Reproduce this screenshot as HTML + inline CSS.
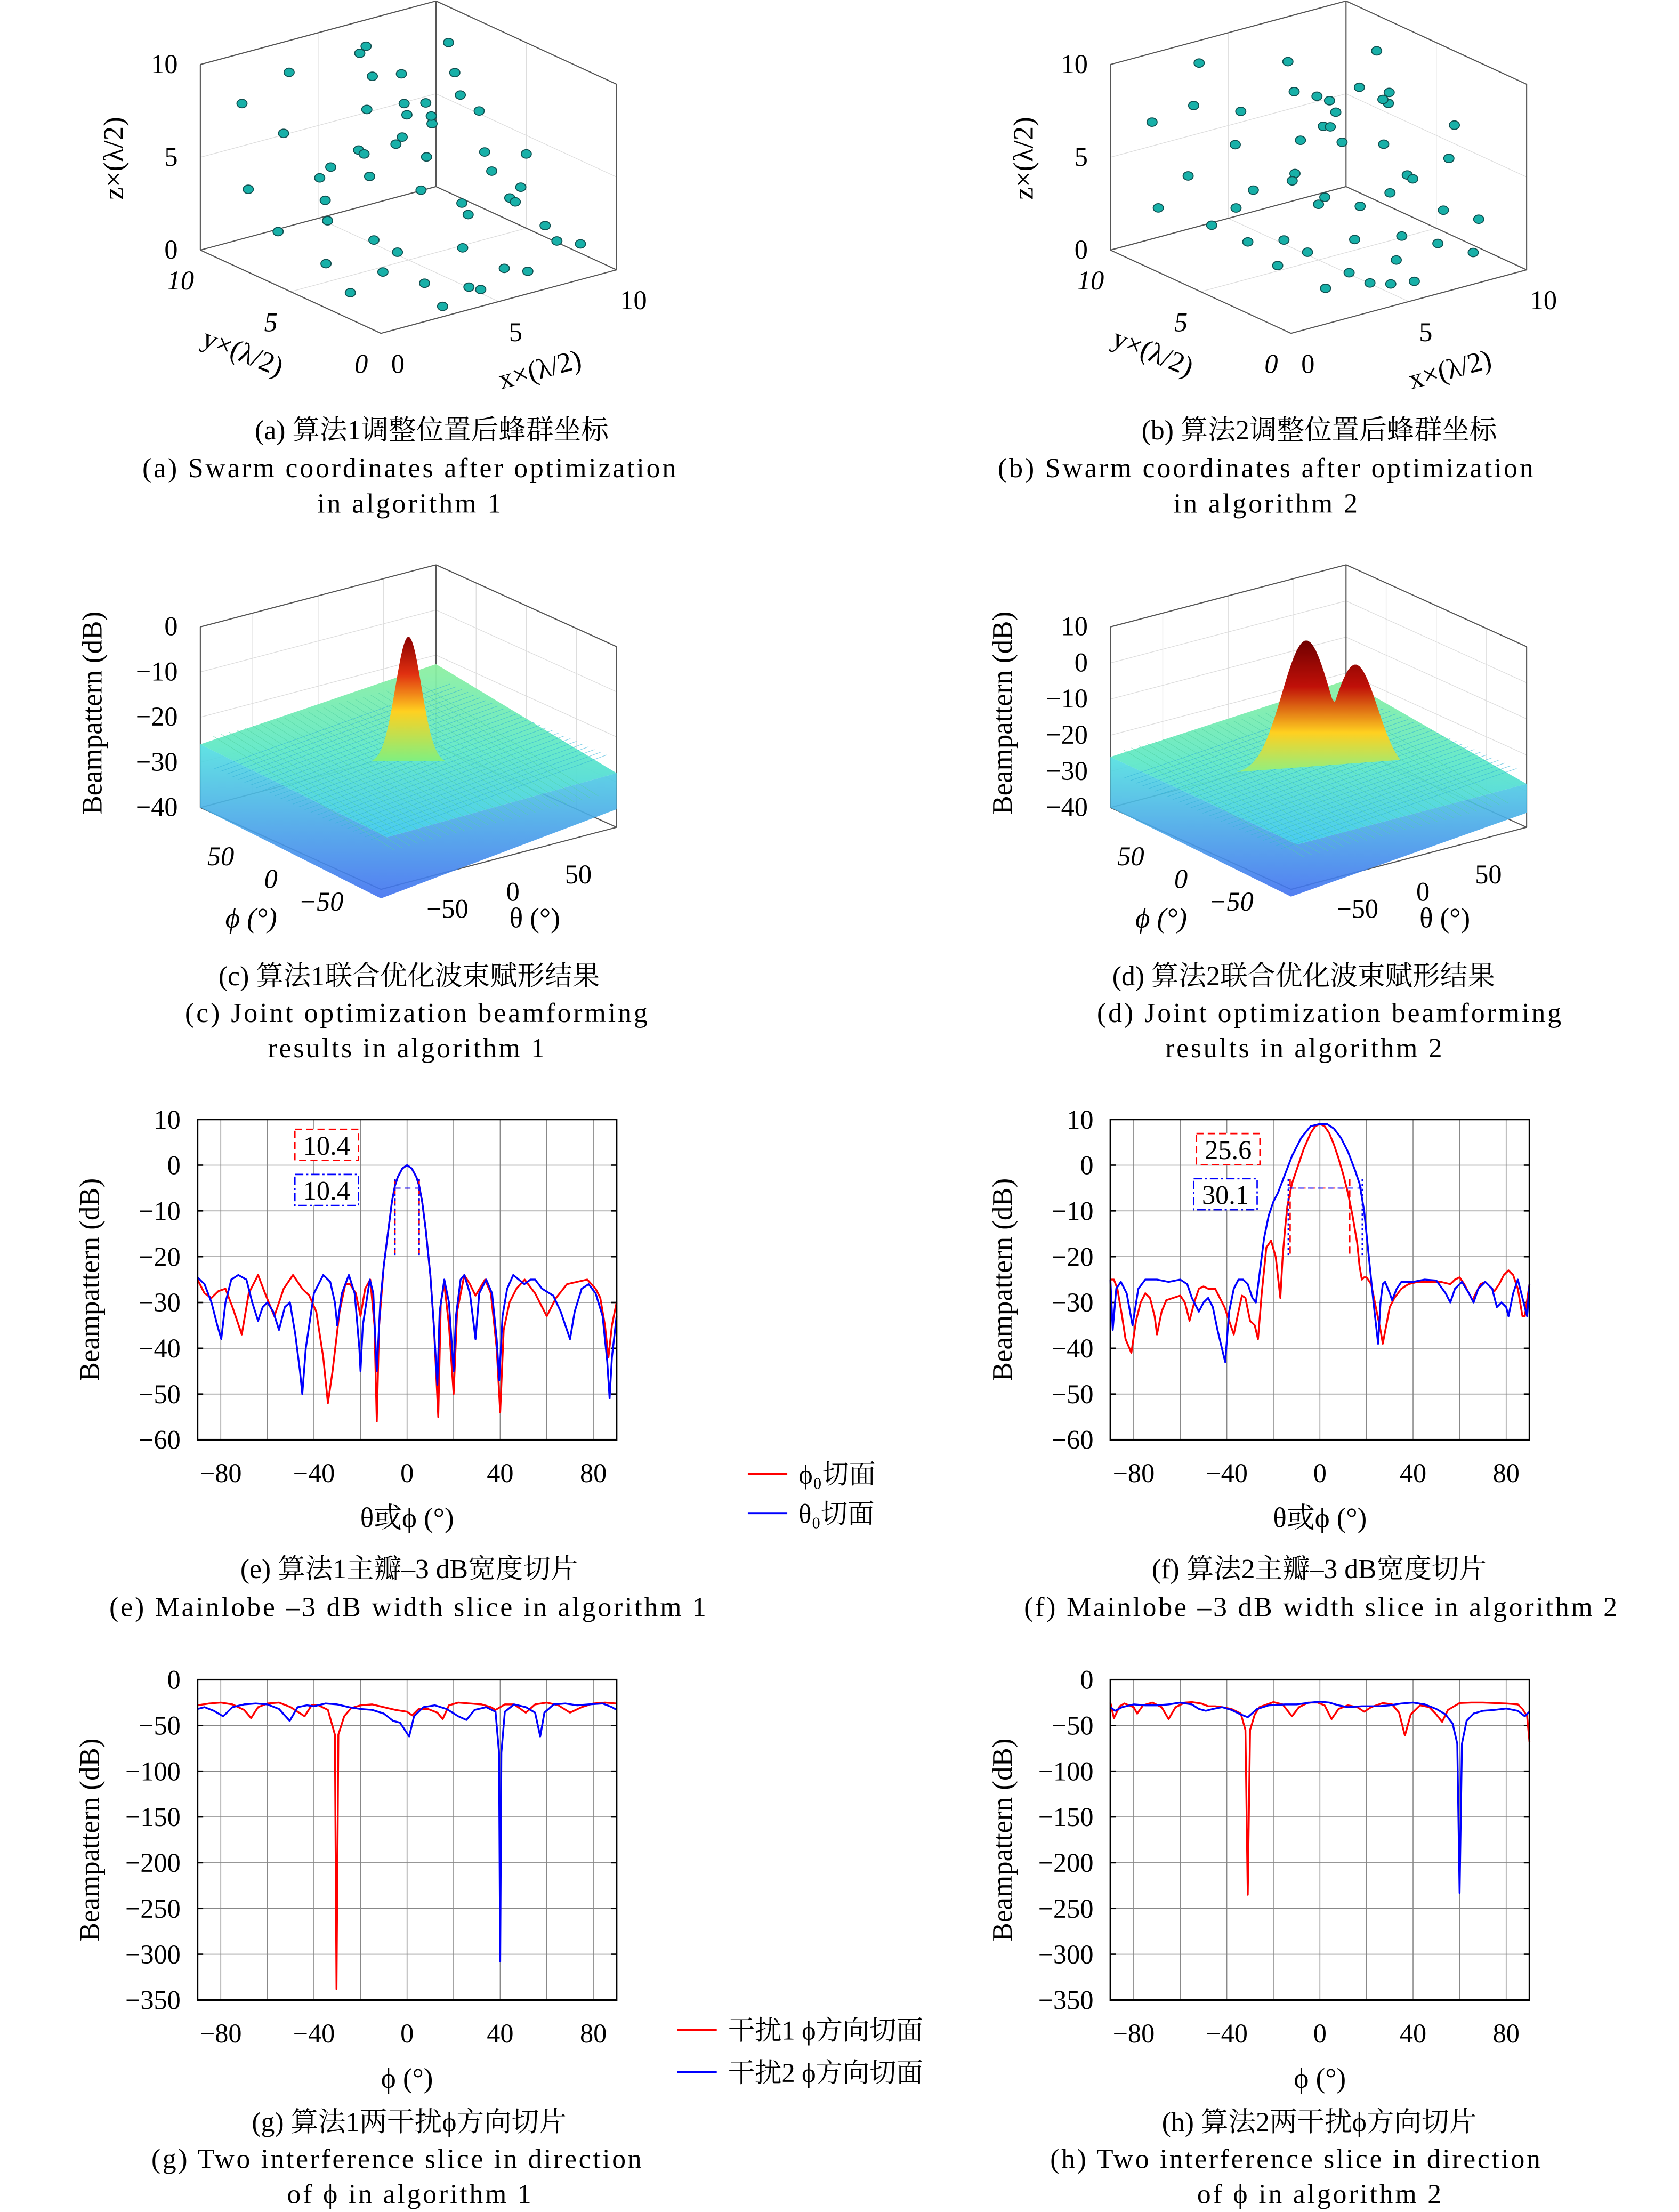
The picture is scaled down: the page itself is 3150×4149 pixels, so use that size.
<!DOCTYPE html>
<html><head><meta charset="utf-8">
<style>
html,body{margin:0;padding:0;background:#fff;}
svg{display:block;}
text{font-family:"Liberation Serif","Noto Serif CJK SC",serif;fill:#000;}
</style></head>
<body>
<svg id="root" width="3150" height="4149" viewBox="0 0 1190 1567" xmlns="http://www.w3.org/2000/svg">
<defs>
<linearGradient id="peakA" x1="0" y1="0" x2="0" y2="1">
<stop offset="0" stop-color="#8b0000"/><stop offset="0.3" stop-color="#e03010"/><stop offset="0.6" stop-color="#ffd020"/><stop offset="1" stop-color="#80f080"/>
</linearGradient>
<linearGradient id="peakB" x1="0" y1="0" x2="0" y2="1">
<stop offset="0" stop-color="#700000"/><stop offset="0.35" stop-color="#c01008"/><stop offset="0.7" stop-color="#ffd020"/><stop offset="1" stop-color="#90f080"/>
</linearGradient>
<linearGradient id="surfTop" x1="0" y1="0" x2="0" y2="1">
<stop offset="0" stop-color="#8ef0a0"/><stop offset="0.5" stop-color="#60e8c8"/><stop offset="1" stop-color="#40c8f0"/>
</linearGradient>
<linearGradient id="skirt" x1="0" y1="0" x2="0" y2="1">
<stop offset="0" stop-color="#50e0e0"/><stop offset="1" stop-color="#4070f0"/>
</linearGradient>
</defs>
<g id="layer"></g>
</svg>
<script>
// ---------- data ----------
const scatterA = [[1,9,8],[2,8,6.5],[3,9,9],[0.5,8,4],[1,7,2],[2,6,5],[3,7,3],[4,8,4],[1.5,5,1],[0.8,4,4],[2.5,4.5,7],[4,6,8],[5,7,9],[5.5,8,10],[6,9,9],[3,3,2],[4,3,5],[5,4,6],[6,5,7],[6.5,6,7.5],[7,8,8],[7.5,8.5,6],[8,9,5],[5,2,2],[6,3,3],[7,3,5],[8,5,7],[9,6,4],[9.5,8,6],[6,1,1],[7,2,4],[8,3,3],[9,4,3],[10,5,4],[8.5,2,2],[4.5,1,0.5],[3,1.5,1],[2,2.5,1.5],[3.5,5.5,6],[4.5,6.5,4],[5.5,6,6],[7.5,7,6],[8.5,7,8],[9,8,9],[6.5,4,3],[2,3,3],[1,3,0.5],[5,1,0.2],[7,1,0.5],[9,2,1],[10,2,0.5],[3,0.5,0.2],[6,7,5]];
const scatterB = [[1,9,7],[2,8,8],[3,9,9.5],[0.5,8,3],[1,7,5],[2,7,2],[3,6,4],[4,8,7],[1.5,5,4],[2.5,4,1],[3,3,2],[4,5,5],[5,6,6],[5.5,7,8],[6,8,9],[4,2,1],[5,3,2],[6,4,3],[6,5,6],[6.5,6,7],[7,7,7],[7.5,8,5],[8,9,6],[5,1,0.5],[6,2,1],[7,3,1.5],[8,4,4],[9,5,3],[9.5,7,6],[6,1,0.3],[7,1,2],[8,2,3],[9,3,5],[10,4,6],[8.5,1,1],[4.5,1.5,0.5],[3,2,0.5],[2,3,3],[3.5,4.5,5],[4.5,4,4],[5.5,5,7],[7.5,6,8],[8.5,6,7],[9,7,9],[6.5,3,4],[2,5,2],[7,4,6],[5,5,3],[3,7,6],[8,5,8],[9.5,2,2]];
const eRed = [[-90,-25],[-87,-28],[-84,-29],[-81,-27.5],[-78,-27],[-75,-31],[-71,-37],[-68,-28],[-64,-24],[-61,-28],[-57,-33],[-53,-27],[-49,-24],[-45,-27],[-42,-28.5],[-39,-32],[-36,-42],[-34,-52],[-32,-45],[-29,-32],[-26.5,-26],[-24.5,-26],[-22,-28],[-20,-33],[-18,-27],[-15.8,-25],[-14,-35],[-13,-56],[-12,-35],[-10,-22],[-8,-14],[-6.5,-8],[-5.2,-4.5],[-4,-2.6],[-2,-0.7],[0,0],[2,-0.7],[4,-2.6],[5.2,-4.5],[6.5,-8],[8,-14],[10,-24],[11.5,-35],[13.4,-55],[14.5,-30],[16,-26],[18,-35],[20,-50],[21.5,-32],[24.6,-24],[27,-26],[29.4,-28.5],[33.5,-25],[36,-28],[38.5,-40],[40,-54],[41.5,-36],[44,-30],[47,-27],[50.5,-25],[55,-28],[60,-33],[64,-29],[68.7,-26],[73,-25.5],[77.4,-25],[81,-27],[83,-29],[85,-35],[86.5,-42],[88,-35],[90,-30]];
const eBlue = [[-90,-24.5],[-87,-26],[-84,-30],[-81.5,-35],[-79.8,-38],[-78,-30],[-75.5,-25],[-72.5,-24],[-69,-25],[-66.5,-30],[-64,-34],[-62,-31],[-60,-30],[-57.5,-32],[-55,-36],[-52.5,-31],[-50.3,-30],[-48,-37],[-46,-45],[-45,-50],[-43.5,-40],[-40,-28],[-36,-24],[-33,-25.5],[-31,-30],[-30,-35],[-28,-28],[-25,-24],[-22.5,-28],[-20.5,-40],[-20,-45],[-19,-35],[-16,-25],[-14.5,-28],[-13,-45],[-11.5,-30],[-10,-22],[-8,-14],[-6.5,-8],[-5.2,-4.5],[-4,-2.6],[-2,-0.7],[0,0],[2,-0.7],[4,-2.6],[5.2,-4.5],[6.5,-8],[8,-14],[10,-24],[11.5,-35],[13,-48],[14,-32],[16,-25],[18,-30],[20,-45],[21,-33],[23,-25],[24.6,-24],[27,-28],[29.4,-38],[31,-28],[34,-25],[36.5,-28],[38.5,-38],[39.6,-47],[41,-33],[43,-27],[45.6,-24],[48,-25],[50.4,-26],[53,-25],[55,-25],[58,-27],[62.8,-28.5],[66,-32],[70,-38],[72,-32],[75,-27],[78,-26],[81,-28],[84,-33],[86,-43],[87,-51],[88,-42],[90,-33]];
const fRed = [[-90,-25],[-88.5,-25],[-87,-27],[-85,-33],[-83.5,-38],[-81,-41],[-79,-34],[-77,-30],[-75,-28],[-73,-29],[-71,-33],[-70,-37],[-68,-32],[-66,-29.5],[-63,-29],[-60,-28.5],[-58,-30],[-56,-34],[-54,-30],[-52,-27],[-50,-26.5],[-48,-27],[-45,-27],[-43,-29],[-41,-31],[-39,-34],[-37,-37],[-35,-32],[-33.5,-28.5],[-32,-29],[-30,-34],[-28,-35],[-26.6,-38],[-25,-28],[-23,-18],[-21,-16.5],[-19,-20],[-17,-29],[-16,-20],[-15,-14],[-14,-9],[-12,-4],[-10,-1],[-7,3.5],[-4,7],[-2,8.5],[0,9],[2,8.5],[4,7],[6,4.5],[8,1.5],[10,-2],[12,-6],[14,-11],[16,-17],[17,-22],[18,-25],[19,-24.5],[20,-24.5],[22,-26],[24,-31],[26,-36],[27,-39],[28.5,-35],[30,-31],[32,-29],[35,-27],[38,-26],[42,-25.5],[48,-25.5],[52,-25.5],[56,-26],[58,-25],[60,-24.5],[62,-26],[64,-28],[65.5,-29.5],[67,-28],[69,-26],[71,-25.5],[73,-26.5],[75,-27.5],[77,-26],[79,-24],[81,-23],[83,-24],[85,-27],[87,-33],[88,-33],[90,-26]];
const fBlue = [[-90,-25],[-89,-36],[-87.5,-27],[-85.5,-25.5],[-83,-28],[-80.5,-35],[-78,-27],[-75,-25],[-70,-25],[-65,-25.5],[-60,-25],[-57,-26],[-55,-29],[-52,-32],[-50,-30],[-48,-29],[-46,-31],[-44,-36],[-40.7,-43],[-39,-32],[-37,-27],[-35,-25],[-33,-25],[-31,-26],[-29,-29],[-27.5,-30],[-26,-24],[-24,-16],[-22,-11],[-20,-8],[-18,-6],[-15,-2],[-12,2],[-8,6],[-4,8.5],[0,9],[3,9],[6,8],[9,6],[12,3],[15,-1],[17,-4],[19,-10],[21,-20],[23,-30],[25,-39],[26,-30],[27,-26],[28,-25.5],[30,-28],[31,-29.5],[33,-27],[35,-25.5],[40,-25.5],[45,-25],[50,-25.2],[54,-28],[56,-30],[58,-27],[61,-25.5],[64,-28],[66,-30],[68,-27],[71,-25.5],[74,-27],[76,-31],[78,-30],[80,-31],[81,-33],[83,-28],[85,-25],[87,-29],[89,-33],[90,-26]];
const gRed = [[-90,-28],[-85,-26],[-80,-25],[-75,-27],[-70,-33],[-67,-42],[-64,-30],[-60,-26],[-55,-25],[-50,-30],[-44,-40],[-41,-28],[-38,-28],[-34,-33],[-31,-60],[-30.3,-338],[-29.5,-60],[-27,-40],[-24,-31],[-20,-28],[-15,-27],[-10,-30],[-5,-33],[0,-35],[2.2,-39],[5,-32],[9,-32],[13,-36],[15.3,-43],[18,-28],[22,-25],[27,-26],[32,-27],[36,-30],[38,-33],[42,-27],[46,-27],[51,-36],[55,-27],[60,-25],[65,-28],[70,-36],[75,-30],[80,-26],[85,-25],[90,-26]];
const gBlue = [[-90,-32],[-87,-30],[-83,-34],[-79,-40],[-75,-30],[-70,-27],[-65,-26],[-60,-27],[-55,-32],[-50.4,-45],[-47,-30],[-43,-28],[-40,-29],[-35,-26],[-30,-27],[-25,-30],[-20,-32],[-15,-33],[-10,-37],[-6,-45],[-3,-47],[0.9,-62],[3,-40],[7,-30],[12,-28],[17,-32],[22,-40],[25.5,-44],[29,-33],[34,-30],[38,-35],[39.5,-80],[40,-308],[40.5,-80],[42,-35],[46,-27],[51,-30],[55,-36],[57.2,-62],[59,-36],[63,-27],[68,-26],[73,-28],[78,-27],[84,-26],[88,-30],[90,-33]];
const hRed = [[-90,-25],[-88.5,-42],[-86,-29],[-84,-26],[-80,-30],[-78.5,-37],[-76,-28],[-72,-25],[-68,-30],[-65,-43],[-62,-30],[-58,-25],[-55,-24.5],[-51,-26],[-48,-29],[-45,-29],[-42,-30],[-38,-32],[-34,-37],[-32,-55],[-31,-235],[-30,-55],[-28,-38],[-26,-30],[-20,-24.5],[-16,-27],[-12,-40],[-9,-30],[-5,-25],[-1,-25],[2,-28],[5,-43],[8,-32],[12,-28],[16,-30],[19,-35],[22,-30],[27,-25.5],[31,-27],[34,-36],[36.5,-61],[39,-38],[43,-28],[47,-30],[50,-38],[52.5,-46],[55,-33],[60,-25.5],[65,-25],[70,-25],[75,-25.5],[80,-26],[85,-27],[87,-32],[89,-40],[90,-68]];
const hBlue = [[-90,-30],[-88,-34],[-85,-30],[-80,-27],[-75,-28],[-70,-28],[-65,-27],[-60,-25],[-55,-27],[-52,-32],[-49,-34],[-46,-32],[-42,-30],[-38,-33],[-34,-38],[-31,-41],[-27,-32],[-22,-28],[-15,-27],[-10,-27],[-4,-25],[0,-24],[4,-25],[8,-28],[12,-30],[18,-29],[25,-29],[30,-28],[35,-26],[40,-25],[45,-27],[50,-32],[54,-38],[57,-48],[59,-70],[60,-233],[61,-70],[63,-45],[66,-37],[70,-34],[75,-33],[80,-31.5],[85,-34],[88,-40],[90,-35]];
const xTicks = [-80,-40,0,40,80];
const yTicksEF = [10,0,-10,-20,-30,-40,-50,-60];
const yTicksGH = [0,-50,-100,-150,-200,-250,-300,-350];
const zTicksA = [0,5,10];
const zTicksC = [0,-10,-20,-30,-40];
const zTicksD = [10,0,-10,-20,-30,-40];
const peakC=[0,-40];
const peakD=[9,-40];

// ---------- helpers ----------
const NS='http://www.w3.org/2000/svg';
const layer=document.getElementById('layer');
function mk(tag,attrs,parent){const e=document.createElementNS(NS,tag);for(const k in attrs)e.setAttribute(k,attrs[k]);(parent||layer).appendChild(e);return e;}
function txt(x,y,s,size,anchor,parent,extra){const t=mk('text',Object.assign({x:x,y:y,'font-size':size,'text-anchor':anchor||'middle'},extra||{}),parent);t.textContent=s;return t;}

// ---------- line plots ----------
function linePlot(ox,top,bottom,ymax,ymin,yTicks,series,name,xlabel){
  const g=mk('g',{});
  
  
  const L=ox,R=ox+297;
  const sx=v=>L+(v+90)/180*(R-L);
  const sy=v=>top+(ymax-v)/(ymax-ymin)*(bottom-top);
  for(let a=-80;a<=80;a+=20){const l=mk('line',{x1:sx(a),x2:sx(a),y1:top,y2:bottom,stroke:'#888','stroke-width':0.6},g);}
  yTicks.forEach(v=>{const l=mk('line',{x1:L,x2:R,y1:sy(v),y2:sy(v),stroke:'#888','stroke-width':0.6},g);
    const t=txt(L-12,sy(v)+6.5,String(v).replace('-','\u2212'),19,'end',g);
    mk('line',{x1:L,x2:L+4,y1:sy(v),y2:sy(v),stroke:'#000','stroke-width':1},g);mk('line',{x1:R-4,x2:R,y1:sy(v),y2:sy(v),stroke:'#000','stroke-width':1},g);});
  xTicks.forEach(v=>{const t=txt(sx(v),bottom+30,String(v).replace('-','\u2212'),19,'middle',g);});
  series.forEach(s=>{const d=s.data.map((p,i)=>(i?'L':'M')+sx(p[0]).toFixed(2)+' '+sy(p[1]).toFixed(2)).join(' ');
    const p=mk('path',{d:d,fill:'none',stroke:s.color,'stroke-width':1.3,'stroke-linejoin':'round'},g);});
  const fr=mk('rect',{x:L,y:top,width:R-L,height:bottom-top,fill:'none',stroke:'#000','stroke-width':1.2},g);
  const yl=txt(0,0,'Beampattern (dB)',20,'middle',g,{transform:'translate('+(L-70)+','+((top+bottom)/2)+') rotate(-90)'});
  const xl=txt((L+R)/2,bottom+62,xlabel,20,'middle',g);
  return {sx,sy,g};
}
const pe=linePlot(140,793,1020,10,-60,yTicksEF,[{data:eRed,color:'#f00',name:'phi0-cut-line'},{data:eBlue,color:'#00f',name:'theta0-cut-line'}],'plot-e','θ或ϕ (°)');
const pf=linePlot(787,793,1020,10,-60,yTicksEF,[{data:fRed,color:'#f00',name:'phi0-cut-line'},{data:fBlue,color:'#00f',name:'theta0-cut-line'}],'plot-f','θ或ϕ (°)');
const pg=linePlot(140,1190,1417,0,-350,yTicksGH,[{data:gRed,color:'#f00',name:'interference1-line'},{data:gBlue,color:'#00f',name:'interference2-line'}],'plot-g','ϕ (°)');
const ph=linePlot(787,1190,1417,0,-350,yTicksGH,[{data:hRed,color:'#f00',name:'interference1-line'},{data:hBlue,color:'#00f',name:'interference2-line'}],'plot-h','ϕ (°)');

function widthMark(p,a1,a2,lvl,color,dash){
  [a1,a2].forEach(a=>{const l=mk('line',{x1:p.sx(a),x2:p.sx(a),y1:p.sy(lvl),y2:p.sy(-20),stroke:color,'stroke-width':1,'stroke-dasharray':dash},p.g);});
  const h=mk('line',{x1:p.sx(a1),x2:p.sx(a2),y1:p.sy(lvl-2),y2:p.sy(lvl-2),stroke:color,'stroke-width':0.7,'stroke-dasharray':'4 3'},p.g);
}
widthMark(pe,-5.2,5.2,-3,'#f00','4 3');widthMark(pe,-5.2,5.2,-3,'#00f','1.5 2');
widthMark(pf,-12.8,12.8,-3,'#f00','5 3');widthMark(pf,-13.6,18.2,-3,'#00f','1.5 2');
function annBox(x,y,s,color,dash,g){const r=mk('rect',{x:x,y:y,width:45,height:22,fill:'#fff',stroke:color,'stroke-width':1,'stroke-dasharray':dash},g);
  const t=txt(x+22.5,y+18,s,19,'middle',g);}
annBox(209,800,'10.4','#f00','5 3',pe.g);annBox(209,832,'10.4','#00f','6 2 1.5 2',pe.g);
annBox(848,803,'25.6','#f00','5 3',pf.g);annBox(846,835,'30.1','#00f','6 2 1.5 2',pf.g);

// ---------- 3D scatter ----------
function scatter3d(ox,data,name){
  const g=mk('g',{});
  const P=(x,y,z)=>[ox+128+16.7*x-12.8*y, 236-4.5*x-5.9*y-13.15*z];
  const ln=(a,b,c,w)=>{const p=P(...a),q=P(...b);const l=mk('line',{x1:p[0],y1:p[1],x2:q[0],y2:q[1],stroke:c||'#555','stroke-width':w||0.8},g);};
  [0,5,10].forEach(v=>{ln([v,10,0],[v,10,10],'#ddd',0.5);ln([10,v,0],[10,v,10],'#ddd',0.5);ln([v,0,0],[v,10,0],'#ddd',0.5);ln([0,v,0],[10,v,0],'#ddd',0.5);ln([0,10,v],[10,10,v],'#ddd',0.5);ln([10,0,v],[10,10,v],'#ddd',0.5);});
  ln([0,10,0],[0,10,10]);ln([10,0,0],[10,0,10]);ln([10,10,0],[10,10,10]);ln([0,10,10],[10,10,10]);ln([10,0,10],[10,10,10]);
  ln([0,0,0],[10,0,0]);ln([0,0,0],[0,10,0]);ln([0,10,0],[10,10,0]);ln([10,0,0],[10,10,0]);
  data.forEach(d=>{const p=P(d[0],d[1],d[2]);const c=mk('ellipse',{cx:p[0],cy:p[1],rx:3.6,ry:3,fill:'#18b0a8',stroke:'#105050','stroke-width':0.7},g);});
  zTicksA.forEach(v=>{const p=P(0,10,v);const t=txt(p[0]-16,p[1]+6,String(v),19,'end',g);});
  [0,5,10].forEach(v=>{const p=P(v,0,0);const t=txt(p[0]+12,p[1]+28,String(v),19,'middle',g);
    const q=P(0,v,0);const t2=txt(q[0]-14,q[1]+28,String(v),19,'middle',g,{'font-style':'italic'});});
  const zt=txt(0,0,'z×(λ/2)',20,'middle',g,{transform:'translate('+(ox-55)+',112) rotate(-90)'});
  const xt=txt(ox+241,268,'x×(λ/2)',20,'middle',g,{transform:'rotate(-15 '+(ox+241)+' 263)'});
  const yt=txt(ox+30,256,'y×(λ/2)',20,'middle',g,{transform:'rotate(22 '+(ox+30)+' 250)'});
}
scatter3d(142,scatterA,'scatter-a');
scatter3d(787,scatterB,'scatter-b');

// ---------- 3D surfaces ----------
function surface3d(ox,zTicks,zmax,peak,wide,name,grad,dbl){
  const g=mk('g',{});
  const k=128/(zmax+40);
  const P=(ph,th,z)=>{const u=(ph+90)/180,v=(th+90)/180;return [ox+128-128*u+167*v, 630-58*u-44*v-(z+40)*k];};
  const ln=(a,b,c,w)=>{const p=P(...a),q=P(...b);const l=mk('line',{x1:p[0],y1:p[1],x2:q[0],y2:q[1],stroke:c||'#555','stroke-width':w||0.8},g);};
  zTicks.forEach(z=>{ln([90,-90,z],[90,90,z],'#ddd',0.5);ln([90,90,z],[-90,90,z],'#ddd',0.5);});
  [-50,0,50].forEach(a=>{ln([90,a,-40],[90,a,zmax],'#ddd',0.5);ln([a,90,-40],[a,90,zmax],'#ddd',0.5);});
  ln([90,-90,-40],[90,-90,zmax]);ln([-90,90,-40],[-90,90,zmax]);ln([90,90,-40],[90,90,zmax]);ln([90,-90,zmax],[90,90,zmax]);ln([-90,90,zmax],[90,90,zmax]);
  ln([-90,-90,-40],[90,-90,-40]);ln([-90,-90,-40],[-90,90,-40]);ln([90,-90,-40],[90,90,-40]);ln([-90,90,-40],[90,90,-40]);
  const c=[P(90,-90,-26),P(90,90,-22),P(-90,90,-28),P(-70,-70,-32)];
  const top=mk('polygon',{points:c.map(p=>p.join(',')).join(' '),fill:'url(#surfTop)',opacity:0.95},g);
  const sk=[P(90,-90,-26),P(-70,-70,-32),P(-90,90,-28),P(-90,90,-36),P(-90,-90,-42),P(90,-90,-40)];
  const s=mk('polygon',{points:sk.map(p=>p.join(',')).join(' '),fill:'url(#skirt)',opacity:0.9},g);
  for(let a=-80;a<=80;a+=6){const p=P(a,-90,-30),q=P(a,90,-25);const l=mk('line',{x1:p[0],y1:p[1],x2:q[0],y2:q[1],stroke:'#30b0d8','stroke-width':0.4,opacity:0.6},g);
    const p2=P(-90,a,-32),q2=P(90,a,-25);const l2=mk('line',{x1:p2[0],y1:p2[1],x2:q2[0],y2:q2[1],stroke:'#50d0a0','stroke-width':0.4,opacity:0.6},g);}
  // main lobe (bell shape)
  const b=P(0,0,-28),t=P(0,0,peak[0]);const H=b[1]-t[1];
  let d='';
  for(let i=0;i<=60;i++){const sN=-1+i/30;let h=Math.exp(-Math.pow(sN*2.0,2));
    if(dbl){h=Math.max(Math.exp(-Math.pow((sN+0.15)*2.4,2)),0.82*Math.exp(-Math.pow((sN-0.45)*2.6,2)));}
    d+=(i?'L':'M')+(b[0]+wide*sN).toFixed(2)+' '+(b[1]-H*h).toFixed(2)+' ';}
  d+='Z';
  const pk=mk('path',{d:d,fill:'url(#'+grad+')'},g);
  
  zTicks.forEach(z=>{const p=P(90,-90,z);const tt=txt(p[0]-16,p[1]+6,String(z).replace('-','\u2212'),19,'end',g);});
  [50,0,-50].forEach(a=>{const p=P(a,-90,-40);const tt=txt(p[0]-14,p[1]+28,String(a).replace('-','\u2212'),19,'middle',g,{'font-style':'italic'});
    const q=P(-90,a,-40);const t2=txt(q[0]+10,q[1]+30,String(a).replace('-','\u2212'),19,'middle',g);});
  const pt=txt(ox+36,657,'ϕ (°)',20,'middle',g,{'font-style':'italic'});
  const th=txt(ox+237,657,'θ (°)',20,'middle',g);
  const yl=txt(0,0,'Beampattern (dB)',20,'middle',g,{transform:'translate('+(ox-70)+',505) rotate(-90)'});
}
surface3d(142,zTicksC,0,peakC,26,'surface-c','peakA',false);
surface3d(787,zTicksD,10,peakD,58,'surface-d','peakB',true);

// ---------- captions ----------
const caps=[[306,311,'(a) 算法1调整位置后蜂群坐标'],[290,338,'(a) Swarm coordinates after optimization'],[290,363,'in algorithm 1'],
[935,311,'(b) 算法2调整位置后蜂群坐标'],[897,338,'(b) Swarm coordinates after optimization'],[897,363,'in algorithm 2'],
[290,698,'(c) 算法1联合优化波束赋形结果'],[295,724,'(c) Joint optimization beamforming'],[288,749,'results in algorithm 1'],
[924,698,'(d) 算法2联合优化波束赋形结果'],[942,724,'(d) Joint optimization beamforming'],[924,749,'results in algorithm 2'],
[290,1118,'(e) 算法1主瓣–3 dB宽度切片'],[289,1145,'(e) Mainlobe –3 dB width slice in algorithm 1'],
[935,1118,'(f) 算法2主瓣–3 dB宽度切片'],[936,1145,'(f) Mainlobe –3 dB width slice in algorithm 2'],
[290,1510,'(g) 算法1两干扰ϕ方向切片'],[281,1536,'(g) Two interference slice in direction'],[290,1561,'of ϕ in algorithm 1'],
[935,1510,'(h) 算法2两干扰ϕ方向切片'],[918,1536,'(h) Two interference slice in direction'],[935,1561,'of ϕ in algorithm 2']];
caps.forEach(c=>{const t=txt(c[0],c[1],c[2],19.5,'middle');
  if(!/[\u4e00-\u9fff]/.test(c[2])){const w=t.getComputedTextLength();if(w>0){t.setAttribute('textLength',(w*1.18).toFixed(1));t.setAttribute('lengthAdjust','spacing');}}});
function legend(x,y,color,label,name){const g=mk('g',{});
  mk('line',{x1:x,x2:x+28,y1:y,y2:y,stroke:color,'stroke-width':1.5},g);txt(x+36,y+7,label,19,'start',g);}
legend(530,1044,'#f00','ϕ₀切面','legend-phi0-cut');
legend(530,1072,'#00f','θ₀切面','legend-theta0-cut');
legend(480,1438,'#f00','干扰1 ϕ方向切面','legend-interference1');
legend(480,1468,'#00f','干扰2 ϕ方向切面','legend-interference2');
</script>
</body></html>
